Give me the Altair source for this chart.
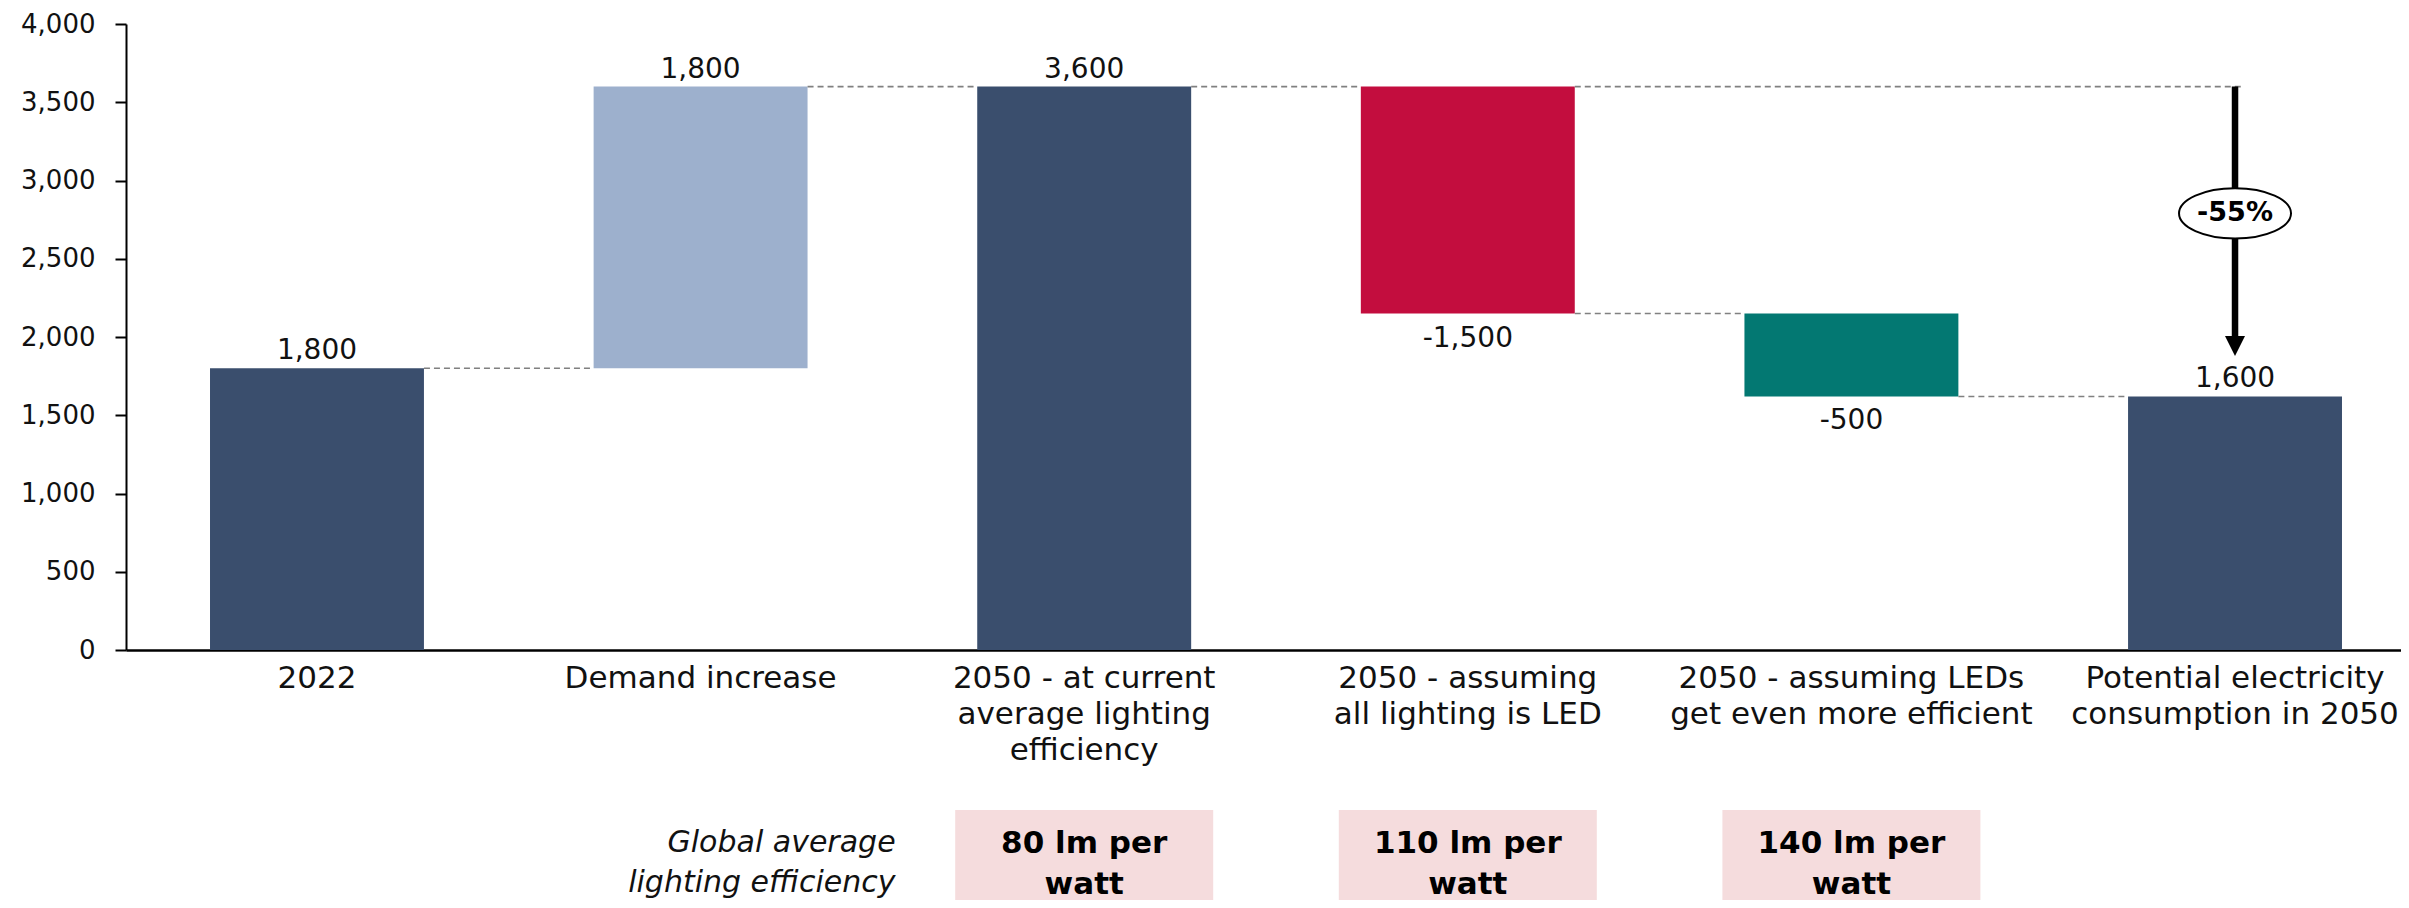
import altair as alt
import pandas as pd

# ---------------- data ----------------
cat_ids = ["y2022", "demand", "current", "led", "better_led", "potential"]
cat_labels = [
    "2022",
    "Demand increase",
    "2050 - at current\naverage lighting\nefficiency",
    "2050 - assuming\nall lighting is LED",
    "2050 - assuming LEDs\nget even more efficient",
    "Potential electricity\nconsumption in 2050",
]
kinds = ["total", "delta", "total", "delta", "delta", "total"]
values = [1800, 1800, 3600, -1450, -530, 1620]
value_labels = ["1,800", "1,800", "3,600", "-1,500", "-500", "1,600"]
bar_colors = ["#3A4E6D", "#9DB0CD", "#3A4E6D", "#C30D3E", "#037872", "#3A4E6D"]
y_ticks = [0, 500, 1000, 1500, 2000, 2500, 3000, 3500, 4000]

eff_cats = ["current", "led", "better_led"]
eff_labels = ["80 lm per\nwatt", "110 lm per\nwatt", "140 lm per\nwatt"]
eff_title = "Global average\nlighting efficiency"

# ---------------- derived tables ----------------
rows = []
running = 0
for cid, kind, v, lab, col in zip(cat_ids, kinds, values, value_labels, bar_colors):
    if kind == "total":
        start, end = 0, v
    else:
        start, end = running, running + v
    running = end
    rows.append(dict(cat=cid, start=start, end=end, top=max(start, end),
                     bottom=min(start, end), label=lab, color=col, neg=v < 0))
bars = pd.DataFrame(rows)

conn = pd.DataFrame([
    dict(frm=cat_ids[i], to=cat_ids[i + 1], level=rows[i]["end"]) for i in range(5)
])
first_total = rows[2]["end"]
final_total = rows[5]["end"]
pct_text = f"{round((final_total - first_total) / first_total * 100)}%"
arrow_from = pd.DataFrame([dict(frm="led", to="potential", level=first_total)])

tip_val = final_total + 265
head_val = tip_val + 58
ellipse_val = 2790
arrow = pd.DataFrame([dict(cat="potential", y=first_total, y2=head_val,
                           head=head_val, ell=ellipse_val, txt=pct_text)])

xlab = pd.DataFrame(dict(cat=cat_ids, label=cat_labels))
eff = pd.DataFrame(dict(cat=eff_cats, label=eff_labels))
eff_t = pd.DataFrame([dict(cat="demand", label=eff_title)])

# ---------------- scales / axes ----------------
FONT = "DejaVu Sans"
xscale = alt.Scale(domain=cat_ids, range=[0, 2300], paddingInner=0.4423, paddingOuter=0.219)
yscale = alt.Scale(domain=[0, 4000], nice=False)
xaxis = alt.Axis(labels=False, ticks=False, title=None, domain=True,
                 domainColor="black", domainWidth=2.5, grid=False)
yaxis = alt.Axis(values=y_ticks, format=",.0f", title=None, grid=False,
                 labelFont=FONT, labelFontSize=26, labelColor="#111",
                 tickSize=11, tickWidth=2, tickColor="black",
                 domainColor="black", domainWidth=2, labelPadding=20)


def X(field, **kw):
    return alt.X(f"{field}:N", scale=xscale, sort=cat_ids, axis=xaxis, **kw)


def Y(field):
    return alt.Y(f"{field}:Q", scale=yscale, axis=yaxis)


bar_layer = alt.Chart(bars).mark_bar().encode(
    x=X("cat"),
    y=Y("start"),
    y2="end:Q",
    color=alt.Color("color:N", scale=None),
)

connectors = alt.Chart(conn).mark_rule(color="#808080", strokeWidth=1.6, strokeDash=[6, 4]).encode(
    x=X("frm", bandPosition=1),
    x2=alt.X2("to:N", bandPosition=0),
    y=Y("level"),
)

arrow_conn = alt.Chart(arrow_from).mark_rule(color="#808080", strokeWidth=1.6, strokeDash=[6, 4]).encode(
    x=X("frm", bandPosition=1),
    x2=alt.X2("to:N", bandPosition=0.54),
    y=Y("level"),
)

pos_labels = alt.Chart(bars[~bars["neg"]]).mark_text(
    font=FONT, fontSize=28, color="#111", baseline="alphabetic", dy=-9
).encode(x=X("cat"), y=Y("top"), text="label:N")

neg_labels = alt.Chart(bars[bars["neg"]]).mark_text(
    font=FONT, fontSize=28, color="#111", baseline="alphabetic", dy=33
).encode(x=X("cat"), y=Y("bottom"), text="label:N")

arrow_line = alt.Chart(arrow).mark_rule(color="black", strokeWidth=6.5).encode(
    x=X("cat"), y=Y("y"), y2="y2:Q"
)
arrow_head = alt.Chart(arrow).mark_point(
    shape="M -1 -1 L 1 -1 L 0 1 Z", size=400, filled=True, color="black", opacity=1
).encode(x=X("cat"), y=Y("head"))

ellipse_path = "M -1 0 A 1 0.45 0 1 0 1 0 A 1 0.45 0 1 0 -1 0 Z"
ellipse = alt.Chart(arrow).mark_point(
    shape=ellipse_path, size=112 * 112, filled=True, fill="white", stroke="black",
    strokeWidth=2, opacity=1
).encode(x=X("cat"), y=Y("ell"))
pct = alt.Chart(arrow).mark_text(
    font=FONT, fontSize=27, fontWeight="bold", color="black", baseline="middle"
).encode(x=X("cat"), y=Y("ell"), text="txt:N")

x_labels = alt.Chart(xlab).mark_text(
    font=FONT, fontSize=31, color="#111", baseline="alphabetic", lineBreak="\n", lineHeight=36
).encode(x=X("cat"), y=alt.value(664), text="label:N")

eff_boxes = alt.Chart(eff).mark_bar(width=258, color="#F5DCDD").encode(
    x=X("cat"), y=alt.value(786), y2=alt.value(900)
)
eff_text = alt.Chart(eff).mark_text(
    font=FONT, fontSize=31, fontWeight="bold", color="black", baseline="middle",
    lineBreak="\n", lineHeight=41
).encode(x=X("cat"), y=alt.value(820), text="label:N")
eff_title_t = alt.Chart(eff_t).mark_text(
    font=FONT, fontSize=30, fontStyle="italic", color="#111", baseline="middle",
    align="right", lineBreak="\n", lineHeight=40, dx=195
).encode(x=X("cat"), y=alt.value(819), text="label:N")

chart = alt.layer(
    eff_boxes, bar_layer, connectors, arrow_conn, pos_labels, neg_labels,
    arrow_line, arrow_head, ellipse, pct, x_labels, eff_text, eff_title_t
).properties(
    width=2275, height=626,
    autosize=alt.AutoSizeParams(type="none"),
    padding={"left": 118, "top": 16, "right": 0, "bottom": 250},
).configure_view(strokeWidth=0)

chart.save("out.html", embed_options={"renderer": "svg", "actions": False})
